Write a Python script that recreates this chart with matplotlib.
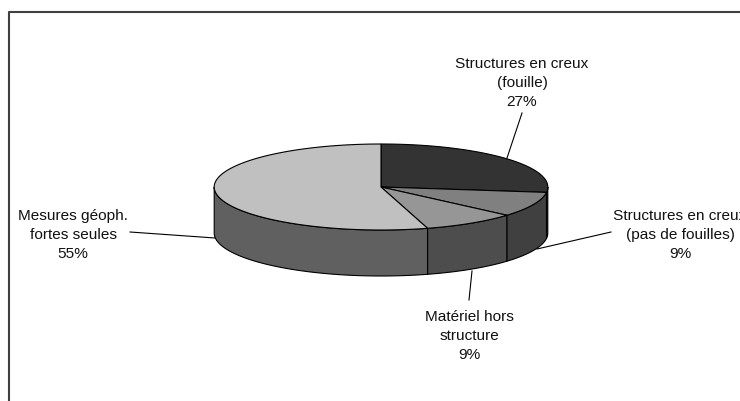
import numpy as np
import matplotlib
matplotlib.use("Agg")
import matplotlib.pyplot as plt

plt.rcParams['font.family'] = ['Liberation Sans', 'DejaVu Sans']

# Pie values (%), clockwise from 12 o'clock, estimated from the slice edges
labels = ['Structures en creux\n(fouille)\n27%',
          'Structures en creux\n(pas de fouilles)\n9%',
          'Matériel hors\nstructure\n9%',
          'Mesures géoph.\nfortes seules\n55%']
values = [27, 9.4, 9.1, 54.5]
top_colors = ['#333333', '#808080', '#969696', '#c0c0c0']
side_colors = ['#1a1a1a', '#404040', '#4d4d4d', '#606060']

# Label anchor (pixels) and leader lines
label_pos = [(522, 83), (680, 235), (469, 336), (73, 235)]
leaders = [[(507, 158), (522, 113)],
           [(537, 249), (611, 232)],
           [(472, 271), (469, 300)],
           [(215, 238), (130, 232)]]

# Ellipse geometry in pixels
cx, cy = 381, 187
rx, ry = 166.8, 43
depth = 46

W, H = 740, 401
fig = plt.figure(figsize=(W / 100, H / 100), dpi=100)
ax = fig.add_axes([0, 0, 1, 1])
ax.set_xlim(0, W)
ax.set_ylim(H, 0)
ax.axis('off')

# Chart frame runs off the right and bottom edges
ax.plot([9, 9, W + 5], [H + 5, 12, 12], color='#404040', lw=1.5, zorder=1)


def arc(a0, a1):
    t = np.radians(np.linspace(a0, a1, 120))
    return cx + rx * np.sin(t), cy - ry * np.cos(t)


# Side walls, only the front half of the rim shows
edges = np.cumsum([0] + values) * 3.6
for i in range(len(values)):
    a0 = max(edges[i], 90)
    a1 = min(edges[i + 1], 270)
    if a1 <= a0:
        continue
    x, y = arc(a0, a1)
    ax.fill(np.r_[x, x[::-1]], np.r_[y, y[::-1] + depth],
            facecolor=side_colors[i], edgecolor='black', lw=0.8, zorder=2)

# Top face
for i in range(len(values)):
    x, y = arc(edges[i], edges[i + 1])
    ax.fill(np.r_[cx, x], np.r_[cy, y],
            facecolor=top_colors[i], edgecolor='black', lw=0.8, zorder=3)

for pts in leaders:
    ax.plot([p[0] for p in pts], [p[1] for p in pts], color='black', lw=0.8, zorder=4)

for lab, pos in zip(labels, label_pos):
    ax.text(pos[0], pos[1], lab, ha='center', va='center', fontsize=11.1,
            linespacing=1.48, color='#111111', zorder=5)

fig.savefig('out.png', dpi=100, facecolor='white')
